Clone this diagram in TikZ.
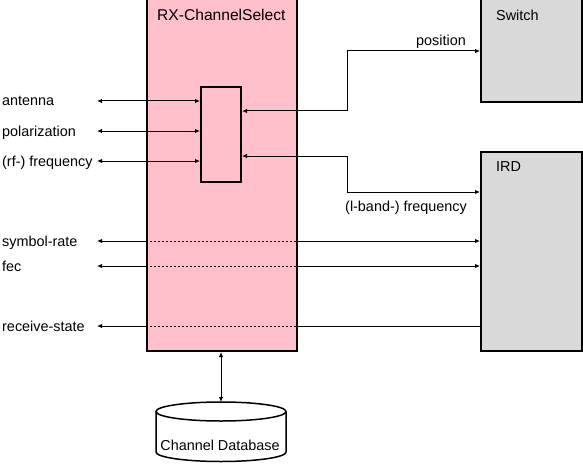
\documentclass[tikz,border=0pt]{standalone}
\usepackage{fontspec}
\setmainfont{Liberation Sans}
\usetikzlibrary{arrows.meta}
\definecolor{rxpink}{HTML}{FFC0CB}
\definecolor{boxgray}{HTML}{D9D9D9}
\begin{document}
\begin{tikzpicture}[x=1pt,y=-1pt,
  font=\fontsize{14.4}{17}\selectfont,
  >={Latex[length=5pt,width=4.5pt]},
  box/.style={draw, line width=2pt, inner sep=0pt, anchor=north west},
  conn/.style={draw, line width=1pt},
  inside/.style={draw, line width=1pt, dash pattern=on 2pt off 2pt},
  lbl/.style={inner sep=0pt, anchor=base west},
  title/.style={inner sep=0pt, anchor=base west}]
\useasboundingbox (0,0) rectangle (583,468);
% blocks
\node[box, fill=rxpink, minimum width=150pt, minimum height=354pt] (rx) at (146,-4) {};
\node[box, minimum width=40pt, minimum height=95pt] (sel) at (200,86) {};
\node[box, fill=boxgray, minimum width=101pt, minimum height=105pt] (sw) at (480,-4) {};
\node[box, fill=boxgray, minimum width=101pt, minimum height=199pt] (ird) at (480,151) {};
\node[title, font=\fontsize{15.6}{18}\selectfont] (rxt) at (157,21) {RX-ChannelSelect};
\node[title] (swt) at (496,21) {Switch};
\node[title] (irdt) at (496,171) {IRD};
% left labels
\node[lbl] (lant) at (2,106) {antenna};
\node[lbl] (lpol) at (2,136) {polarization};
\node[lbl] (lrf) at (2,166) {(rf-) frequency};
\node[lbl] (lsr) at (2,246) {symbol-rate};
\node[lbl] (lfec) at (2,271) {fec};
\node[lbl] (lrs) at (2,331) {receive-state};
\coordinate (ant) at (97,101);
\coordinate (pol) at (97,131);
\coordinate (rf) at (97,161);
\coordinate (sr) at (97,241);
\coordinate (fec) at (97,266);
\coordinate (rs) at (97,326);
\draw[conn,<->] (ant) -- (sel.west |- ant);
\draw[conn,<->] (pol) -- (sel.west |- pol);
\draw[conn,<->] (rf) -- (sel.west |- rf);
% signals through to IRD
\draw[conn,<-] (sr) -- (rx.west |- sr);
\draw[inside] (rx.west |- sr) -- (rx.east |- sr);
\draw[conn,->] (rx.east |- sr) -- (ird.west |- sr);
\draw[conn,<-] (fec) -- (rx.west |- fec);
\draw[inside] (rx.west |- fec) -- (rx.east |- fec);
\draw[conn,->] (rx.east |- fec) -- (ird.west |- fec);
\draw[conn,<-] (rs) -- (rx.west |- rs);
\draw[inside] (rx.west |- rs) -- (rx.east |- rs);
\draw[conn] (rx.east |- rs) -- (ird.west |- rs);
% switch and IRD frequency
\coordinate (p1) at (240,111);
\coordinate (p2) at (347,51);
\coordinate (f1) at (240,156);
\coordinate (f2) at (347,192);
\draw[conn,<->] (sel.east |- p1) -- (p2 |- p1) -- (p2) -- (sw.west |- p2);
\draw[conn,<->] (sel.east |- f1) -- (f2 |- f1) -- (f2) -- (ird.west |- f2);
\node[inner sep=0pt, anchor=base east] (lpos) at (466,46) {position};
\node[inner sep=0pt, anchor=base west] (llb) at (345,211) {(l-band-) frequency};
% database
\draw[line width=1.5pt, fill=white] (221,411.5) ellipse [x radius=65pt, y radius=9.5pt];
\draw[line width=1.5pt] (156,411.5) -- (156,452) arc[start angle=180, end angle=360, x radius=65pt, y radius=9.5pt] -- (286,411.5);
\node[inner sep=0pt, anchor=base] (db) at (220,450) {Channel Database};
\coordinate (dbtop) at (221,402);
\draw[conn,<->] (rx.south -| dbtop) -- (dbtop);
\end{tikzpicture}
\end{document}
